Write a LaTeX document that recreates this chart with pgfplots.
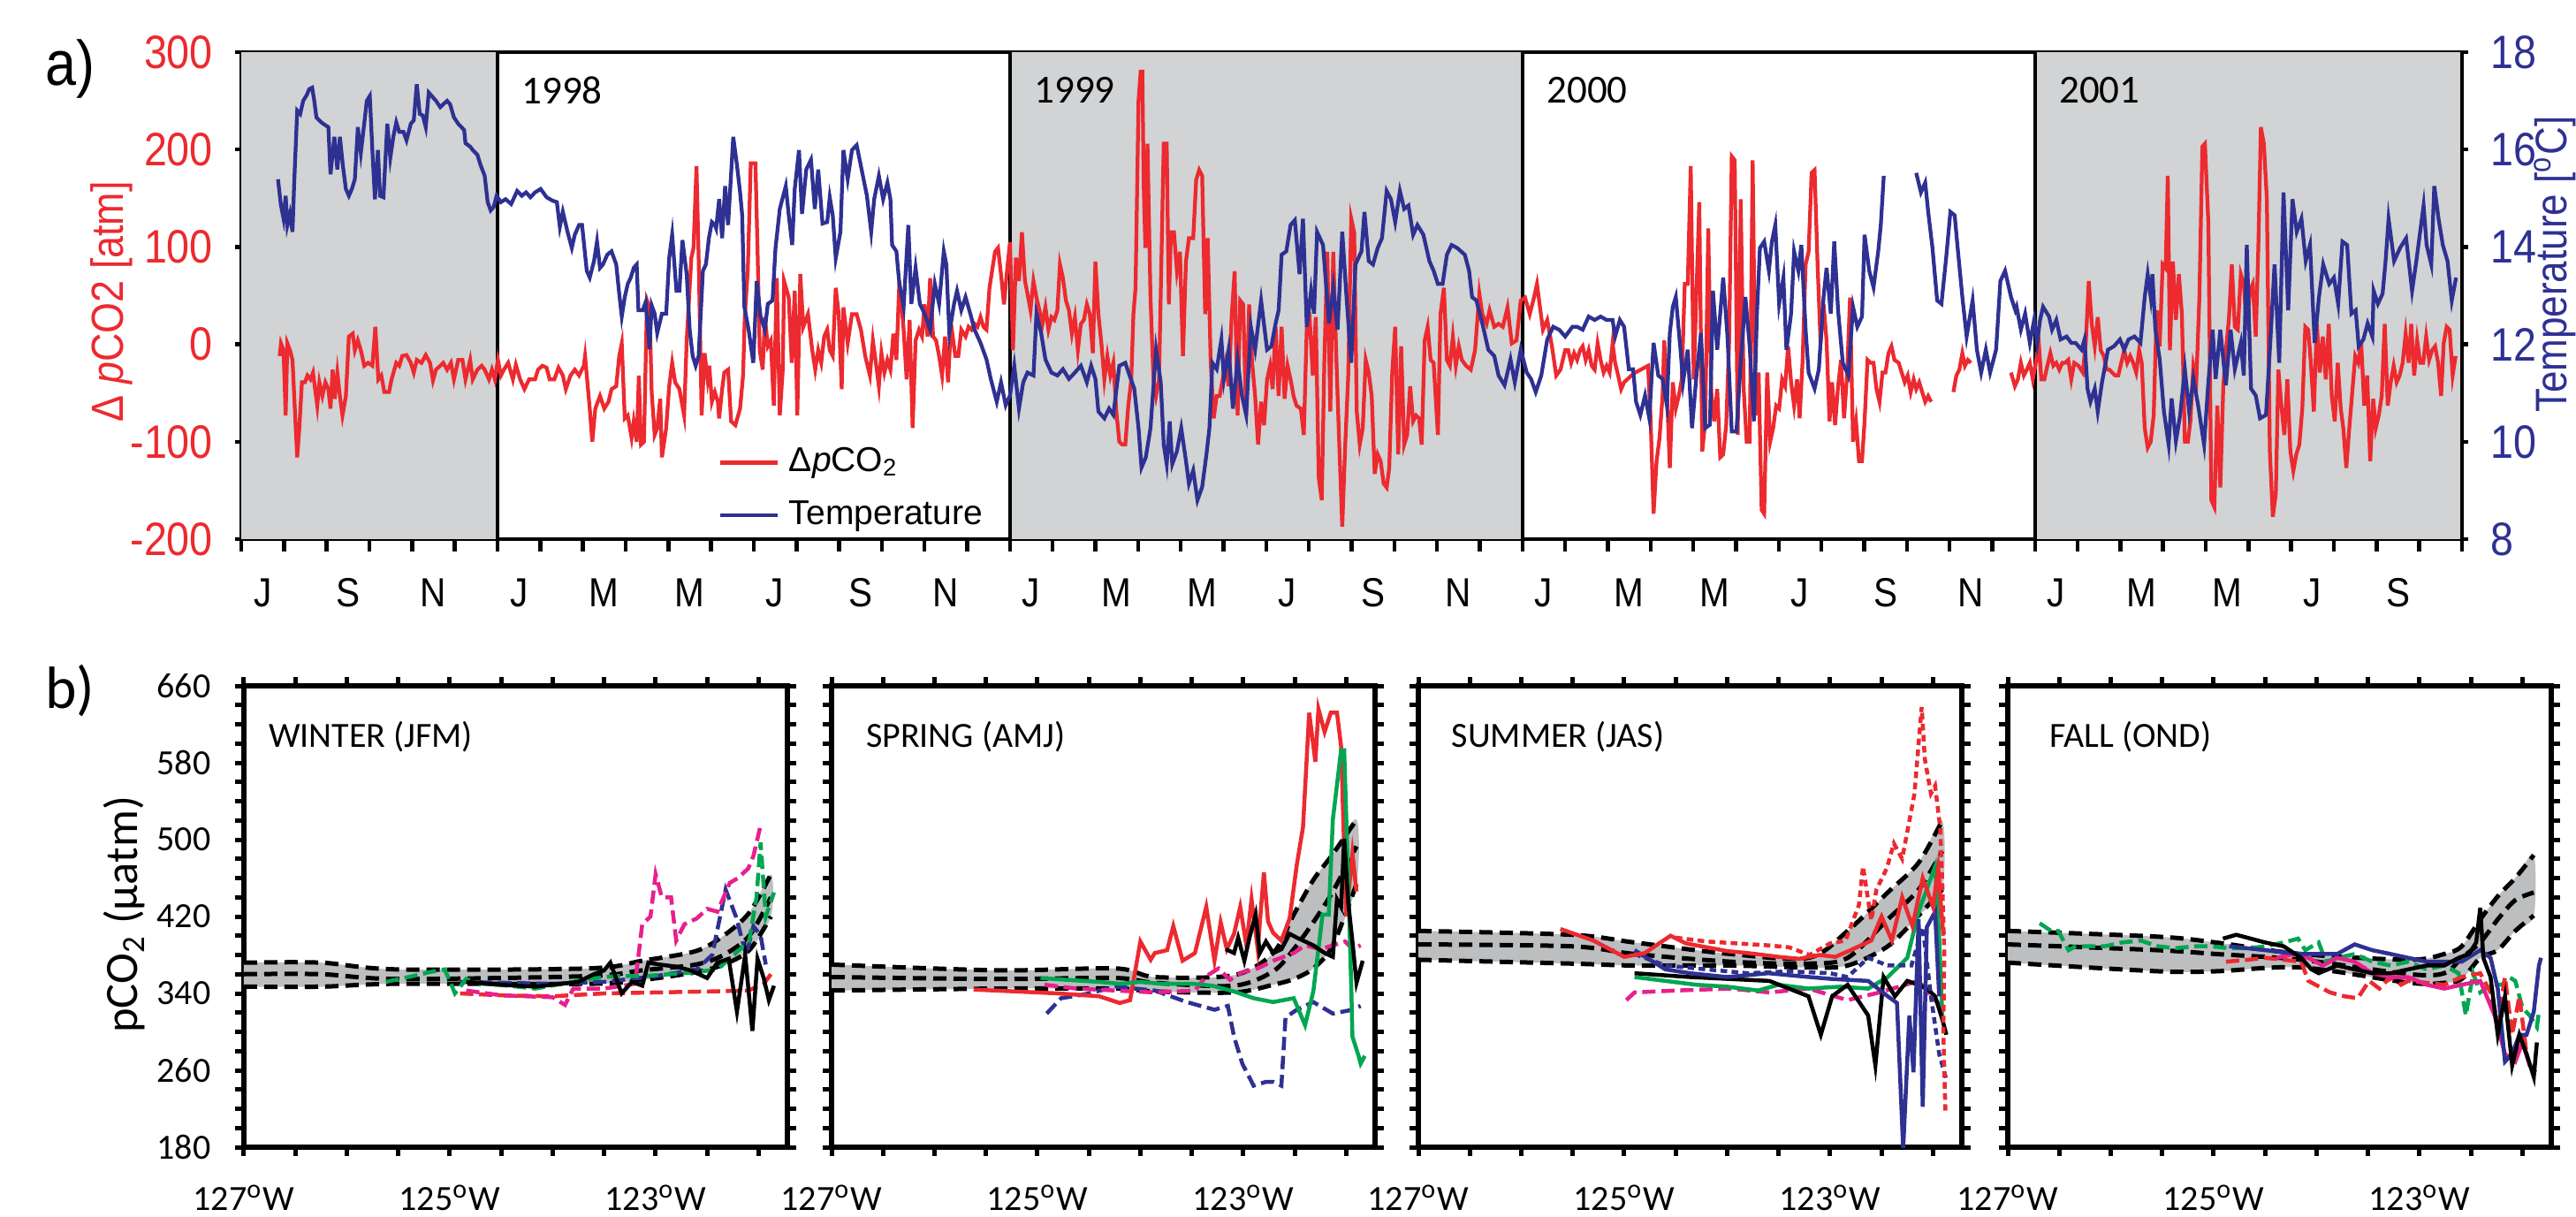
\documentclass[border=0pt]{standalone}
\usepackage{fontspec}
\setmainfont{Liberation Sans}
\newfontfamily\topfont[FakeStretch=0.88]{Liberation Sans}
\newfontfamily\myr{Carlito}
\usepackage{pgfplots}
\usepackage{pgfplotstable}
\pgfplotsset{compat=1.18}

\definecolor{co2red}{HTML}{EC2A2F}
\definecolor{tblue}{HTML}{2E3192}
\definecolor{yrgray}{HTML}{D1D3D4}
\definecolor{bandgray}{HTML}{BCBEC0}
\definecolor{pgreen}{HTML}{00A651}
\definecolor{pmag}{HTML}{E8208C}

% seasonal envelope: longitude (deg W), upper, middle, lower
\pgfplotstableread{
lon up mid lo
127 372 360 347
126.25 372 360 347
125.52 365 355 350
123.65 366 358 350
123.13 374 364 354
122.61 384 370 362
122.34 400 380 370
122.09 424 400 385
121.88 464 440 420
}\bandA
\pgfplotstableread{
lon up mid lo
127 370 357 343
125.39 364 355 345
124.24 366 356 345
123.86 357 351 342
123.09 359 348 341
122.71 382 363 349
122.51 422 386 355
122.32 458 414 366
122.13 485 446 390
121.9 521 493 454
}\bandB
\pgfplotstableread{
lon up mid lo
127 405 391 375
125.51 401 389 371
124.9 393 381 369
123.97 381 373 369
123.21 377 371 367
122.83 405 377 369
122.44 445 417 389
122.14 476 448 421
121.91 520 488 448
}\bandC
\pgfplotstableread{
lon up mid lo
127 405 391 372
125.54 399 385 363
124.98 393 381 363
124.15 381 375 367
123.1 375 360 351
122.76 381 361 351
122.59 389 377 355
122.41 417 393 377
122.24 441 417 385
122.07 460 437 405
121.89 484 445 421
}\bandD

\pgfplotsset{
  bpanel/.style={scale only axis, width=123pt, height=104.4pt,
    xmin=121.72, xmax=127, x dir=reverse, ymin=180, ymax=660,
    xtick={123,125,127},
    xticklabels={123\textsuperscript{o}W,125\textsuperscript{o}W,127\textsuperscript{o}W},
    minor xtick={122,122.5,123.5,124,124.5,125.5,126,126.5},
    ytick={180,260,...,660},
    minor ytick={200,220,240,280,300,320,360,380,400,440,460,480,520,540,560,600,620,640},
    tick align=outside, xtick pos=both, ytick pos=both,
    major tick length=2pt, minor tick length=2pt,
    tick style={line width=1pt,black},
    axis line style={line width=1.1pt},
    tick label style={font=\myr\fontsize{8}{9}\selectfont},
    x tick label style={yshift=-3pt}, y tick label style={xshift=-2pt},
    yticklabels={}},
  bandline/.style={black, line width=1pt, smooth, dash pattern=on 3pt off 1.6pt},
  bandfill/.style={fill=bandgray, draw=none, smooth},
  ser/.style={line width=0.9pt},
  lds/.style={line width=0.9pt, dash pattern=on 3pt off 1.3pt},
  sds/.style={line width=0.9pt, dash pattern=on 1.5pt off 1pt}
}
\tikzset{ptitle/.style={anchor=west, inner sep=0pt, font=\myr\fontsize{8}{9}\selectfont}}

\begin{document}
\begin{tikzpicture}
\useasboundingbox (0,0) rectangle (583pt,-275.4pt);
\clip (0,0) rectangle (583pt,-275.4pt);

% ---------- a) time series, left axis
\begin{axis}[at={(54.6pt,-11.8pt)}, anchor=north west,
  scale only axis, width=502.6pt, height=110.2pt,
  xmin=0, xmax=52, ymin=-200, ymax=300,
  axis line style={line width=0.9pt},
  tick align=outside, xtick pos=left, ytick pos=left,
  xtick={0.5,2.5,...,50.5},
  xticklabels={J,S,N,J,M,M,J,S,N,J,M,M,J,S,N,J,M,M,J,S,N,J,M,M,J,S},
  minor xtick={0,1,...,52},
  major x tick style={draw=none},
  minor tick length=2.7pt, major tick length=1.4pt,
  tick style={line width=0.9pt,black},
  ytick={-200,-100,...,300}, yticklabels={-200,-100,0,100,200,300},
  x tick label style={font=\topfont\fontsize{9.2}{10}\selectfont, yshift=-4pt},
  y tick label style={font=\topfont\fontsize{10.6}{11}\selectfont, text=co2red, xshift=-1.5pt},
  ylabel={Δ \textit{p}CO2 [atm]},
  ylabel style={at={(axis description cs:-0.0585,0.488)}, anchor=center,
    font=\topfont\fontsize{10.2}{11}\selectfont, text=co2red},
  unbounded coords=jump]
\fill[yrgray] (axis cs:0,-200) rectangle (axis cs:6,300);
\fill[yrgray] (axis cs:18,-200) rectangle (axis cs:30,300);
\fill[yrgray] (axis cs:42,-200) rectangle (axis cs:52,300);
\draw[line width=0.9pt] (axis cs:6,-200) -- (axis cs:6,300);
\draw[line width=0.9pt] (axis cs:18,-200) -- (axis cs:18,300);
\draw[line width=0.9pt] (axis cs:30,-200) -- (axis cs:30,300);
\draw[line width=0.9pt] (axis cs:42,-200) -- (axis cs:42,300);
\node[anchor=west, inner sep=0pt, font=\myr\fontsize{9}{10}\selectfont] at (axis cs:6.55,261) {1998};
\node[anchor=west, inner sep=0pt, font=\myr\fontsize{9}{10}\selectfont] at (axis cs:18.55,261) {1999};
\node[anchor=west, inner sep=0pt, font=\myr\fontsize{9}{10}\selectfont] at (axis cs:30.55,261) {2000};
\node[anchor=west, inner sep=0pt, font=\myr\fontsize{9}{10}\selectfont] at (axis cs:42.55,261) {2001};
\addplot[co2red, line width=0.85pt] coordinates {
(0.90,-12)(0.93,1)(0.99,-6)(1.04,-73)(1.08,1)(1.14,-6)(1.20,-16)(1.24,-53)(1.31,-116)(1.36,-86)(1.42,-39)(1.49,-39)(1.55,-32)(1.62,-36)(1.68,-29)(1.73,-46)(1.78,-63)(1.83,-39)(1.90,-53)(1.97,-39)(2.04,-46)(2.09,-66)(2.14,-26)(2.19,-56)(2.25,-29)(2.31,-53)(2.37,-73)(2.45,-53)(2.52,8)(2.61,11)(2.66,-6)(2.73,4)(2.80,-6)(2.88,-22)(2.97,-19)(3.07,-22)(3.14,18)(3.21,-36)(3.28,-32)(3.35,-49)(3.46,-49)(3.52,-36)(3.63,-19)(3.70,-22)(3.77,-12)(3.87,-11)(3.97,-19)(4.04,-29)(4.11,-16)(4.22,-19)(4.32,-11)(4.42,-19)(4.49,-37)(4.56,-26)(4.66,-22)(4.73,-19)(4.82,-26)(4.91,-19)(4.98,-36)(5.08,-16)(5.18,-16)(5.25,-36)(5.36,-16)(5.42,-36)(5.53,-26)(5.63,-22)(5.70,-26)(5.80,-36)(5.87,-26)(5.94,-36)(6.01,-16)(6.08,-32)(6.15,-26)(6.25,-19)(6.36,-36)(6.43,-21)(6.53,-36)(6.63,-46)(6.74,-36)(6.88,-36)(6.95,-26)(7.05,-22)(7.15,-24)(7.22,-36)(7.33,-36)(7.43,-24)(7.53,-32)(7.60,-46)(7.71,-32)(7.81,-26)(7.91,-32)(8.02,-22)(8.05,-12)(8.16,-66)(8.22,-100)(8.29,-66)(8.40,-53)(8.50,-66)(8.60,-59)(8.67,-46)(8.78,-43)(8.85,-12)(8.91,1)(8.98,-76)(9.05,-73)(9.14,-96)(9.19,-79)(9.26,-100)(9.31,-32)(9.36,-103)(9.43,-100)(9.50,45)(9.56,38)(9.61,-49)(9.68,-93)(9.74,-86)(9.81,-56)(9.85,-116)(9.95,-86)(10.02,-43)(10.09,-19)(10.16,-39)(10.26,-46)(10.37,-73)(10.43,4)
(10.54,89)(10.59,99)(10.66,183)(10.71,89)(10.78,-73)(10.85,-9)(10.92,-36)(10.96,-22)(11.02,-59)(11.09,-49)(11.16,-59)(11.19,-76)(11.26,-46)(11.31,-29)(11.40,-26)(11.47,-79)(11.57,-83)(11.68,-66)(11.75,-32)(11.79,28)(11.86,75)(11.93,186)(11.99,186)(12.04,186)(12.09,95)(12.14,-6)(12.21,-26)(12.26,28)(12.33,-2)(12.40,4)(12.47,-63)(12.54,68)(12.61,-73)(12.68,-26)(12.71,65)(12.82,48)(12.89,-19)(12.96,55)(13.02,-73)(13.09,72)(13.16,18)(13.27,31)(13.37,-6)(13.44,-26)(13.51,-6)(13.58,-19)(13.65,8)(13.72,15)(13.78,-6)(13.85,-12)(13.92,58)(13.99,31)(14.06,-46)(14.10,38)(14.20,1)(14.30,31)(14.41,31)(14.51,15)(14.61,-12)(14.72,-32)(14.79,4)(14.86,-19)(14.93,-43)(14.99,-9)(15.06,-29)(15.13,-16)(15.20,-26)(15.27,11)(15.34,-16)(15.41,65)(15.51,15)(15.58,-36)(15.65,25)(15.72,-86)(15.79,4)(15.87,15)(15.94,8)(16.00,41)(16.07,8)(16.13,68)(16.20,8)(16.27,4)(16.34,-12)(16.41,-32)(16.48,8)(16.55,-39)(16.62,21)(16.72,-12)(16.79,-12)(16.86,15)(16.96,8)(17.03,18)(17.10,15)(17.17,21)(17.24,18)(17.31,28)(17.38,18)(17.45,15)(17.52,58)(17.59,78)(17.65,95)(17.72,99)(17.79,72)(17.86,41)(17.93,75)(18.00,105)(18.07,-6)(18.14,89)(18.21,65)(18.28,115)(18.35,65)(18.41,52)(18.48,35)(18.55,65)(18.62,48)(18.69,35)(18.76,21)(18.83,38)(18.90,15)(18.97,28)(19.04,25)(19.11,35)(19.17,82)(19.24,68)(19.31,45)(19.38,35)(19.45,11)(19.52,28)(19.59,-6)(19.66,21)(19.73,25)(19.80,41)(19.87,31)(19.94,-9)(20.00,85)(20.07,31)(20.14,1)(20.21,-36)(20.28,-12)(20.35,-32)(20.42,-19)(20.49,-69)(20.56,-100)(20.63,-103)(20.70,-103)
(20.77,-63)(20.84,-36)(20.89,31)(20.94,58)(21.01,250)(21.06,280)(21.10,280)(21.13,166)(21.17,99)(21.22,206)(21.29,48)(21.36,-36)(21.42,-53)(21.49,-36)(21.60,206)(21.67,206)(21.72,41)(21.77,115)(21.84,115)(21.91,75)(21.98,95)(22.05,-12)(22.12,85)(22.19,109)(22.29,109)(22.36,169)(22.43,179)(22.50,173)(22.57,31)(22.63,109)(22.70,-19)(22.77,-76)(22.84,-53)(22.91,-53)(22.98,-36)(23.05,-19)(23.12,-43)(23.19,28)(23.26,75)(23.33,-73)(23.39,45)(23.46,41)(23.53,-73)(23.60,41)(23.67,-19)(23.74,-53)(23.81,-103)(23.88,-59)(23.95,-83)(24.02,-36)(24.09,-22)(24.15,-46)(24.22,18)(24.29,-53)(24.36,18)(24.43,-56)(24.50,-22)(24.57,-36)(24.64,-53)(24.71,-63)(24.81,-66)(24.88,-93)(24.95,18)(25.02,25)(25.09,-32)(25.16,28)(25.23,-137)(25.30,-160)(25.36,-19)(25.43,95)(25.50,-69)(25.57,95)(25.64,-12)(25.71,-103)(25.78,-187)(25.85,-103)(25.92,-32)(25.99,129)(26.06,115)(26.12,-69)(26.19,-103)(26.26,-86)(26.33,-16)(26.40,-29)(26.47,-53)(26.54,-133)(26.61,-113)(26.68,-120)(26.75,-143)(26.82,-147)(26.88,-127)(26.95,-29)(27.02,18)(27.09,-113)(27.16,-2)(27.23,-103)(27.30,-93)(27.37,-43)(27.44,-79)(27.51,-73)(27.58,-76)(27.64,-103)(27.71,4)(27.78,18)(27.85,-16)(27.92,-19)(28.02,-93)(28.08,31)(28.16,58)(28.23,-16)(28.30,-22)(28.37,8)(28.44,-22)(28.51,-2)(28.58,-16)(28.68,-22)(28.79,-26)(28.89,-6)(28.99,52)(29.06,31)(29.16,21)(29.23,35)(29.34,18)(29.44,21)(29.54,18)(29.65,38)(29.75,1)(29.86,4)(29.96,45)(30.06,48)(30.17,31)(30.27,48)(30.34,62)(30.41,38)(30.48,15)(30.58,25)(30.69,-2)(30.79,-32)(30.89,-26)(31.00,-6)
(31.07,-6)(31.14,-19)(31.21,-9)(31.28,-16)(31.35,-6)(31.41,-2)(31.48,-16)(31.55,-6)(31.62,-22)(31.69,-26)(31.76,1)(31.83,-16)(31.90,-29)(31.97,-22)(32.04,-29)(32.11,1)(32.17,-19)(32.24,-32)(32.31,-46)(32.38,-39)(32.6,-30)(32.94,-22)(33.00,-76)(33.07,-174)(33.14,-120)(33.21,-96)(33.28,-53)(33.32,4)(33.38,-46)(33.45,-127)(33.52,-39)(33.59,-66)(33.66,-53)(33.73,-36)(33.80,62)(33.87,62)(33.94,183)(34.01,-36)(34.08,62)(34.14,146)(34.21,-110)(34.28,-79)(34.35,119)(34.42,-49)(34.49,-79)(34.56,-46)(34.63,-116)(34.70,-113)(34.77,-83)(34.84,4)(34.90,193)(34.97,189)(35.04,-93)(35.11,149)(35.18,-46)(35.25,-100)(35.32,-100)(35.39,189)(35.46,-73)(35.53,-29)(35.60,-170)(35.66,-174)(35.73,-29)(35.80,-100)(35.87,-86)(35.94,-63)(36.01,-66)(36.08,-36)(36.15,-43)(36.22,-2)(36.29,-39)(36.36,-63)(36.43,-36)(36.49,-76)(36.56,-16)(36.63,82)(36.70,95)(36.77,176)(36.84,179)(36.91,82)(36.98,1)(37.05,41)(37.12,4)(37.19,-79)(37.25,-39)(37.32,-83)(37.39,-43)(37.46,-16)(37.53,-76)(37.60,-32)(37.67,48)(37.74,-100)(37.81,-79)(37.88,-120)(37.95,-120)(38.01,-79)(38.08,-16)(38.15,-19)(38.22,-19)(38.29,-46)(38.36,-59)(38.43,-29)(38.50,-29)(38.57,-9)(38.64,-2)(38.71,-16)(38.81,-19)(38.88,-29)(38.95,-39)(39.02,-32)(39.09,-49)(39.16,-36)(39.22,-46)(39.29,-39)(39.36,-49)(39.43,-59)(39.50,-53)(39.57,-59)(39.8,nan)(40.09,-49)(40.16,-32)(40.23,-26)(40.30,-9)(40.36,-22)(40.43,-16)(40.50,-19)(41.0,nan)(41.44,-29)
(41.53,-43)(41.60,-36)(41.67,-19)(41.74,-32)(41.81,-26)(41.88,-19)(41.95,-36)(42.02,-19)(42.09,1)(42.15,-36)(42.22,-36)(42.29,-22)(42.36,-9)(42.43,-22)(42.50,-19)(42.57,-26)(42.64,-19)(42.71,-19)(42.78,-16)(42.85,-36)(42.92,-19)(43.02,-22)(43.12,-29)(43.19,1)(43.26,65)(43.33,21)(43.40,-2)(43.47,28)(43.54,-6)(43.61,-12)(43.68,-26)(43.74,-26)(43.81,-29)(43.88,-32)(43.95,-32)(44.02,-19)(44.09,-6)(44.16,-19)(44.23,-12)(44.30,-19)(44.37,-29)(44.44,-6)(44.50,-19)(44.57,-86)(44.64,-106)(44.71,-100)(44.78,-73)(44.85,35)(44.92,-2)(44.99,82)(45.06,78)(45.11,173)(45.16,-6)(45.23,85)(45.30,25)(45.37,72)(45.44,31)(45.51,-100)(45.58,-100)(45.64,-79)(45.71,-22)(45.78,-36)(45.85,48)(45.92,203)(45.98,206)(46.06,125)(46.13,-160)(46.20,-167)(46.27,-63)(46.34,-147)(46.41,-43)(46.47,-6)(46.54,25)(46.61,82)(46.68,18)(46.75,15)(46.82,72)(46.89,62)(46.96,15)(47.03,55)(47.10,62)(47.17,8)(47.23,99)(47.29,223)(47.36,206)(47.43,149)(47.50,-110)(47.57,-177)(47.64,-153)(47.70,-26)(47.77,-63)(47.84,-93)(47.91,-36)(47.98,-110)(48.05,-130)(48.12,-113)(48.19,-103)(48.26,-66)(48.33,18)(48.40,15)(48.46,-19)(48.53,-69)(48.60,21)(48.67,-29)(48.74,8)(48.81,-36)(48.88,21)(48.95,-53)(49.02,-79)(49.09,-19)(49.16,-66)(49.22,-86)(49.29,-127)(49.36,-86)(49.43,-49)(49.50,-12)(49.57,-19)(49.64,1)(49.71,-63)(49.78,-32)(49.85,-120)(49.92,-56)(49.98,-86)(50.05,-73)(50.12,-53)(50.19,21)(50.26,-63)(50.33,-39)(50.40,-22)(50.47,-39)(50.54,-32)(50.61,-19)(50.68,11)(50.75,-19)(50.81,21)(50.88,-32)(50.95,4)(51.02,-19)(51.09,-19)(51.16,8)(51.23,-16)(51.30,-6)(51.37,-2)(51.44,-19)(51.51,-53)(51.57,1)(51.64,18)(51.71,15)(51.78,-32)(51.85,-12)
};
\end{axis}

% ---------- a) time series, right axis (temperature)
\begin{axis}[at={(54.6pt,-11.8pt)}, anchor=north west,
  scale only axis, width=502.6pt, height=110.2pt,
  xmin=0, xmax=52, ymin=8, ymax=18,
  axis x line=none, axis y line*=right,
  y axis line style={line width=0.9pt},
  tick align=outside, major tick length=1.4pt,
  tick style={line width=0.9pt,black},
  ytick={8,10,...,18}, yticklabels={8,10,12,14,16,18},
  y tick label style={font=\topfont\fontsize{10.6}{11}\selectfont, text=tblue, xshift=1.5pt},
  ylabel={Temperature [\textsuperscript{o}C]},
  ylabel style={at={(axis description cs:1.0418,0.564)}, anchor=center,
    font=\topfont\fontsize{10}{11}\selectfont, text=tblue},
  unbounded coords=jump,
  legend style={draw=none, fill=none, at={(axis description cs:0.2085,0.226)}, anchor=north west,
    font=\fontsize{7.8}{9}\selectfont, row sep=1pt},
  legend cell align=left,
  legend image code/.code={\draw[#1] (0pt,0pt) -- (13pt,0pt);}]
\addlegendimage{co2red, line width=1pt}
\addlegendentry{Δ\textit{p}CO\textsubscript{2}}
\addplot[tblue, line width=0.85pt] coordinates {
(0.86,15.39)(0.93,14.85)(0.99,14.58)(1.04,15.05)(1.08,14.45)(1.14,14.68)(1.20,14.31)(1.24,15.32)(1.31,16.80)(1.38,16.73)(1.45,17.00)(1.54,17.13)(1.59,17.24)(1.66,17.27)(1.71,17.00)(1.76,16.66)(1.87,16.56)(1.97,16.50)(2.04,16.46)(2.09,15.49)(2.18,16.26)(2.25,15.59)(2.31,16.26)(2.38,15.66)(2.45,15.19)(2.52,15.05)(2.59,15.19)(2.66,15.39)(2.73,16.46)(2.80,15.93)(2.87,16.46)(2.94,17.00)(3.01,17.10)(3.07,15.99)(3.13,14.98)(3.20,15.99)(3.25,15.05)(3.33,15.02)(3.42,16.53)(3.49,15.83)(3.56,16.26)(3.63,16.56)(3.70,16.36)(3.80,16.36)(3.87,16.19)(3.97,16.53)(4.04,16.60)(4.11,17.34)(4.18,16.73)(4.25,16.70)(4.32,16.46)(4.39,17.17)(4.46,17.10)(4.56,17.00)(4.66,16.87)(4.73,16.93)(4.82,17.00)(4.89,16.93)(4.98,16.66)(5.08,16.53)(5.22,16.40)(5.25,16.13)(5.36,16.06)(5.42,15.99)(5.53,15.89)(5.60,15.69)(5.70,15.46)(5.77,14.92)(5.84,14.75)(5.91,14.82)(5.98,15.05)(6.08,14.92)(6.19,14.98)(6.32,14.88)(6.46,15.15)(6.57,15.05)(6.67,15.12)(6.77,15.02)(6.88,15.12)(7.01,15.19)(7.15,15.02)(7.29,14.95)(7.39,14.92)(7.46,14.41)(7.53,14.72)(7.64,14.31)(7.74,13.98)(7.81,14.25)(7.91,14.45)(7.98,14.45)(8.09,13.51)(8.16,13.37)(8.26,13.71)(8.33,14.11)(8.40,13.57)(8.47,13.64)(8.57,13.84)(8.67,13.91)(8.78,13.64)(8.85,13.04)(8.91,12.57)(8.98,12.97)(9.05,13.24)(9.12,13.37)(9.19,13.57)(9.26,13.64)(9.30,12.70)(9.40,12.70)(9.47,12.87)(9.56,11.90)(9.61,12.80)(9.68,12.63)(9.74,12.23)(9.85,12.63)(9.95,12.63)(10.02,13.77)(10.09,14.25)(10.19,13.10)(10.26,13.10)(10.33,14.14)(10.43,13.44)
(10.50,12.30)(10.57,11.76)(10.64,11.56)(10.71,11.76)(10.74,12.30)(10.81,13.51)(10.88,13.64)(10.95,14.18)(11.02,14.51)(11.09,14.45)(11.12,14.38)(11.19,14.98)(11.26,14.18)(11.33,15.25)(11.40,14.45)(11.52,16.26)(11.61,15.66)(11.68,15.12)(11.73,14.65)(11.78,12.77)(11.88,12.30)(11.99,11.62)(12.07,13.30)(12.16,12.57)(12.26,12.30)(12.33,12.83)(12.44,12.90)(12.51,13.98)(12.61,14.78)(12.75,15.25)(12.82,14.65)(12.90,14.04)(12.96,15.19)(13.06,15.99)(13.13,14.68)(13.23,15.59)(13.34,15.79)(13.43,14.78)(13.51,15.59)(13.61,14.48)(13.72,14.51)(13.78,15.02)(13.85,14.65)(13.92,13.77)(14.03,14.31)(14.10,15.99)(14.20,15.39)(14.30,15.99)(14.41,16.09)(14.51,15.66)(14.65,15.05)(14.75,14.31)(14.82,14.98)(14.93,15.46)(15.03,14.98)(15.13,15.32)(15.20,14.98)(15.24,14.04)(15.34,13.91)(15.41,13.24)(15.51,12.77)(15.62,14.45)(15.69,12.83)(15.79,13.57)(15.89,12.83)(16.00,12.63)(16.13,12.30)(16.24,13.24)(16.34,12.83)(16.45,13.91)(16.51,13.64)(16.58,12.23)(16.69,12.83)(16.76,13.10)(16.86,12.70)(16.96,12.97)(17.07,12.63)(17.17,12.30)(17.31,12.03)(17.45,11.69)(17.55,11.29)(17.69,10.82)(17.79,11.22)(17.90,10.75)(18.00,10.95)(18.10,11.56)(18.21,10.68)(18.31,11.22)(18.41,11.42)(18.55,11.36)(18.62,12.63)(18.73,12.23)(18.83,11.69)(18.97,11.42)(19.11,11.36)(19.24,11.49)(19.38,11.29)(19.52,11.42)(19.66,11.56)(19.80,11.22)(19.90,11.56)(20.00,11.29)(20.07,10.62)(20.21,10.48)(20.32,10.68)(20.42,10.55)(20.56,11.56)(20.70,11.62)(20.80,11.36)
(20.91,11.09)(21.01,10.28)(21.08,9.47)(21.18,9.68)(21.29,10.28)(21.42,11.89)(21.53,11.22)(21.60,9.94)(21.67,9.54)(21.74,10.42)(21.80,9.54)(21.91,9.81)(22.01,10.28)(22.12,9.61)(22.19,9.14)(22.29,9.41)(22.39,8.80)(22.50,9.07)(22.60,9.74)(22.67,10.28)(22.74,11.62)(22.84,11.49)(22.95,12.10)(23.01,11.29)(23.12,11.89)(23.22,10.68)(23.33,11.69)(23.43,10.95)(23.53,10.55)(23.64,12.36)(23.74,11.89)(23.88,12.90)(24.02,11.89)(24.12,11.96)(24.22,12.43)(24.29,12.70)(24.36,13.84)(24.47,13.91)(24.57,14.45)(24.67,14.55)(24.78,13.44)(24.86,14.58)(24.95,12.36)(25.05,13.10)(25.12,12.63)(25.19,14.31)(25.33,14.04)(25.47,12.43)(25.57,13.17)(25.67,12.30)(25.78,14.31)(25.88,12.97)(25.99,11.62)(26.09,13.64)(26.23,13.91)(26.30,14.72)(26.40,13.71)(26.50,13.64)(26.61,13.98)(26.71,14.18)(26.82,15.15)(26.92,14.98)(27.02,14.51)(27.13,15.15)(27.23,14.78)(27.33,14.85)(27.44,14.25)(27.54,14.45)(27.68,14.25)(27.82,13.71)(27.92,13.51)(28.02,13.24)(28.13,13.24)(28.23,13.84)(28.34,14.04)(28.47,13.98)(28.65,13.84)(28.75,13.51)(28.82,12.97)(28.92,12.90)(29.06,12.43)(29.20,11.89)(29.34,11.76)(29.44,11.36)(29.58,11.16)(29.72,11.69)(29.82,11.22)(29.96,11.89)(30.10,11.42)(30.20,11.29)(30.31,11.02)(30.44,11.36)(30.58,12.10)(30.72,12.36)(30.86,12.30)(31.00,12.16)(31.17,12.36)
(31.28,12.36)(31.41,12.30)(31.55,12.57)(31.69,12.50)(31.83,12.57)(31.97,12.50)(32.11,12.50)(32.17,12.16)(32.28,12.50)(32.38,12.36)(32.49,11.49)(32.59,11.49)(32.66,10.82)(32.76,10.55)(32.87,10.95)(32.97,10.48)(33.07,12.03)(33.18,11.36)(33.28,11.29)(33.38,10.75)(33.45,12.23)(33.52,12.77)(33.59,12.97)(33.70,11.89)(33.76,11.22)(33.87,11.89)(33.97,10.28)(34.08,11.42)(34.18,12.23)(34.28,10.28)(34.39,10.35)(34.46,13.10)(34.56,11.89)(34.70,13.37)(34.80,12.16)(34.90,10.21)(35.01,10.21)(35.11,11.62)(35.22,12.97)(35.32,11.96)(35.42,10.42)(35.49,12.63)(35.56,13.98)(35.66,14.11)(35.77,13.51)(35.84,14.11)(35.92,14.45)(36.01,12.83)(36.11,13.37)(36.18,11.89)(36.29,12.63)(36.36,13.91)(36.46,13.51)(36.53,14.04)(36.63,12.30)(36.70,11.42)(36.84,11.09)(36.94,11.49)(37.05,12.97)(37.12,13.57)(37.22,12.63)(37.30,14.11)(37.39,12.70)(37.50,11.62)(37.63,11.36)(37.74,12.77)(37.84,12.36)(37.95,12.57)(38.01,14.25)(38.12,13.51)(38.22,13.17)(38.33,13.91)(38.39,14.45)(38.46,15.46)(38.8,nan)(39.22,15.52)(39.33,15.12)(39.43,15.32)(39.50,14.72)(39.60,13.98)(39.71,12.90)(39.81,12.83)(39.92,13.77)(40.02,14.72)(40.12,14.65)(40.19,13.98)(40.30,12.97)(40.40,12.16)(40.54,12.90)(40.64,11.89)(40.74,11.42)(40.85,11.89)(40.95,11.42)(41.09,11.89)(41.19,13.30)(41.30,13.51)(41.44,12.97)(41.54,12.70)
(41.57,12.77)(41.67,12.30)(41.77,12.63)(41.88,12.03)(41.98,12.50)(42.05,12.03)(42.12,12.50)(42.19,12.77)(42.33,12.57)(42.40,12.30)(42.50,12.50)(42.60,12.10)(42.74,12.16)(42.85,12.03)(42.95,12.03)(43.09,11.89)(43.16,12.10)(43.23,11.09)(43.30,10.82)(43.40,11.09)(43.47,10.62)(43.57,11.22)(43.71,11.89)(43.85,11.96)(43.99,12.10)(44.09,11.89)(44.19,12.10)(44.33,12.16)(44.47,12.03)(44.57,12.97)(44.64,13.44)(44.71,12.97)(44.75,13.44)(44.82,12.30)(44.92,11.69)(45.02,10.62)(45.13,9.94)(45.20,10.89)(45.30,10.01)(45.40,10.55)(45.51,11.49)(45.61,10.62)(45.71,11.29)(45.82,10.75)(45.96,9.94)(46.06,11.22)(46.16,12.30)(46.23,11.29)(46.34,12.30)(46.47,11.16)(46.58,12.30)(46.68,11.49)(46.82,12.03)(46.89,11.36)(46.96,14.04)(47.06,11.09)(47.17,10.95)(47.27,10.48)(47.41,10.55)(47.51,12.03)(47.61,13.64)(47.72,11.62)(47.82,15.12)(47.93,12.70)(48.03,14.98)(48.13,14.31)(48.24,14.58)(48.34,13.71)(48.44,14.04)(48.55,12.03)(48.65,12.97)(48.75,13.64)(48.89,13.24)(49.00,13.37)(49.10,12.83)(49.20,14.11)(49.31,14.04)(49.41,12.63)(49.51,12.70)(49.58,11.96)(49.69,12.10)(49.79,12.43)(49.90,12.16)(49.93,13.10)(50.03,12.83)(50.14,13.04)(50.21,13.71)(50.28,14.58)(50.41,13.71)(50.55,13.98)(50.69,14.18)(50.83,13.10)(50.93,13.71)(51.04,14.45)(51.10,14.85)(51.17,14.04)(51.28,13.64)(51.35,15.25)(51.45,14.58)(51.55,14.04)(51.66,13.71)(51.76,12.90)(51.86,13.37)
};
\addlegendentry{Temperature}
\end{axis}

\node[font=\topfont\fontsize{14.3}{15}\selectfont] at (15.8pt,-15.6pt) {a)};
\node[font=\myr\fontsize{13.5}{15}\selectfont] at (15.8pt,-156.2pt) {b)};

% ---------- b) WINTER
\begin{axis}[bpanel, at={(55.2pt,-155.2pt)}, anchor=north west,
  yticklabels={180,260,340,420,500,580,660},
  ylabel={pCO\textsubscript{2} (µatm)},
  ylabel style={at={(axis description cs:-0.221,0.504)}, anchor=center,
    font=\myr\fontsize{10.5}{12}\selectfont}]
\addplot[bandfill] coordinates {(127,372)(126.25,372)(125.52,365)(123.65,366)(123.13,374)(122.61,384)(122.34,400)(122.09,424)(121.88,464)(121.88,420)(122.09,385)(122.34,370)(122.61,362)(123.13,354)(123.65,350)(125.52,350)(126.25,347)(127,347)};
\addplot[bandline] table[x=lon,y=up]{\bandA};
\addplot[bandline] table[x=lon,y=mid]{\bandA};
\addplot[bandline] table[x=lon,y=lo]{\bandA};
\addplot[lds, co2red] coordinates {(124.9,340)(124.5,338)(124.0,337)(123.5,340)(123.0,341)(122.5,342)(122.1,343)(121.95,350)(121.88,360)};
\addplot[lds, tblue] coordinates {(124.9,352)(124.0,350)(123.5,352)(123.0,358)(122.6,365)(122.45,380)(122.32,448)(122.22,420)(122.12,380)(122.05,410)(121.98,400)(121.93,370)};
\addplot[lds, pmag] coordinates {(124.84,343)(124.5,338)(124.0,336)(123.88,328)(123.8,345)(123.5,345)(123.2,350)(123.13,412)(123.05,420)(123.0,464)(122.94,440)(122.85,440)(122.8,395)(122.72,412)(122.6,418)(122.5,428)(122.4,425)(122.28,455)(122.2,460)(122.1,470)(122.05,483)(121.98,515)};
\addplot[lds, pgreen] coordinates {(125.62,352)(125.45,356)(125.36,358)(125.2,362)(125.05,365)(124.98,348)(124.95,340)(124.84,355)(124.69,350)(124.43,348)(124.17,345)(123.91,350)(123.65,355)(123.39,358)(123.13,358)(122.87,360)(122.61,362)(122.4,365)(122.24,380)(122.09,395)(122.02,440)(121.98,497)(121.93,420)(121.85,445)};
\addplot[ser, black] coordinates {(124.84,352)(124.5,349)(124.17,347)(123.75,352)(123.6,360)(123.5,364)(123.44,372)(123.33,340)(123.23,352)(123.13,348)(123.07,372)(122.96,370)(122.81,368)(122.66,364)(122.5,356)(122.4,372)(122.29,376)(122.21,321)(122.13,380)(122.06,301)(122.01,376)(121.95,356)(121.9,333)(121.85,348)};
\node[ptitle] at (axis description cs:0.044,0.89) {WINTER (JFM)};
\end{axis}

% ---------- b) SPRING
\begin{axis}[bpanel, at={(188.2pt,-155.2pt)}, anchor=north west]
\addplot[bandfill] coordinates {(127,370)(125.39,364)(124.24,366)(123.86,357)(123.09,359)(122.71,382)(122.51,422)(122.32,458)(122.13,485)(121.9,521)(121.9,454)(122.13,390)(122.32,366)(122.51,355)(122.71,349)(123.09,341)(123.86,342)(124.24,345)(125.39,345)(127,343)};
\addplot[bandline] table[x=lon,y=up]{\bandB};
\addplot[bandline] table[x=lon,y=mid]{\bandB};
\addplot[bandline] table[x=lon,y=lo]{\bandB};
\addplot[lds, tblue] coordinates {(124.91,319)(124.77,335)(124.54,339)(124.24,347)(123.86,343)(123.55,331)(123.28,323)(123.15,327)(123.09,295)(123.01,267)(122.9,244)(122.78,248)(122.71,248)(122.63,244)(122.59,315)(122.48,323)(122.32,331)(122.13,319)(121.94,323)(121.86,327)};
\addplot[lds, pmag] coordinates {(124.93,349)(124.62,345)(124.24,343)(123.86,341)(123.47,343)(123.36,358)(123.24,366)(123.13,354)(123.01,362)(122.86,366)(122.71,374)(122.51,382)(122.4,390)(122.25,386)(122.13,390)(122.01,394)(121.94,386)(121.86,390)};
\addplot[ser, co2red] coordinates {(125.62,344)(125.2,342)(124.8,340)(124.4,337)(124.2,330)(124.1,333)(124.0,394)(123.9,375)(123.86,382)(123.74,385)(123.68,410)(123.59,374)(123.47,382)(123.36,430)(123.28,374)(123.22,414)(123.16,386)(123.09,402)(123.03,430)(122.97,390)(122.92,438)(122.86,386)(122.8,466)(122.76,415)(122.71,403)(122.63,395)(122.55,418)(122.48,474)(122.42,513)(122.36,632)(122.3,581)(122.27,636)(122.21,612)(122.15,632)(122.09,632)(122.05,597)(122.0,420)(121.94,485)(121.9,446)};
\addplot[ser, pgreen] coordinates {(124.97,356)(124.7,354)(124.4,352)(124.2,350)(124.0,352)(123.8,350)(123.5,350)(123.3,348)(123.09,342)(122.9,335)(122.71,331)(122.51,335)(122.4,307)(122.32,342)(122.23,422)(122.17,422)(122.13,521)(122.09,557)(122.05,593)(122.02,593)(121.98,454)(121.95,342)(121.94,295)(121.88,275)(121.86,267)(121.82,275)};
\addplot[ser, black] coordinates {(123.17,386)(123.09,382)(123.05,398)(122.99,374)(122.94,398)(122.88,422)(122.84,382)(122.78,394)(122.71,382)(122.63,386)(122.55,402)(122.48,398)(122.4,394)(122.32,390)(122.21,382)(122.13,378)(122.09,438)(122.05,430)(122.02,501)(121.98,434)(121.94,394)(121.9,351)(121.84,374)};
\node[ptitle] at (axis description cs:0.062,0.89) {SPRING (AMJ)};
\end{axis}

% ---------- b) SUMMER
\begin{axis}[bpanel, at={(321pt,-155.2pt)}, anchor=north west]
\addplot[bandfill] coordinates {(127,405)(125.51,401)(124.9,393)(123.97,381)(123.21,377)(122.83,405)(122.44,445)(122.14,476)(121.91,520)(121.91,448)(122.14,421)(122.44,389)(122.83,369)(123.21,367)(123.97,369)(124.9,369)(125.51,371)(127,375)};
\addplot[bandline] table[x=lon,y=up]{\bandC};
\addplot[bandline] table[x=lon,y=mid]{\bandC};
\addplot[bandline] table[x=lon,y=lo]{\bandC};
\addplot[lds, pmag] coordinates {(124.98,333)(124.9,341)(124.5,343)(123.97,345)(123.59,341)(123.21,345)(122.83,333)(122.52,341)(122.14,353)(122.02,337)(121.94,329)};
\addplot[ser, pgreen] coordinates {(124.9,357)(124.6,353)(124.3,349)(124.0,347)(123.7,343)(123.5,349)(123.21,345)(122.9,347)(122.63,345)(122.44,357)(122.25,377)(122.14,425)(121.98,472)(121.94,397)(121.91,317)};
\addplot[ser, black] coordinates {(124.9,361)(124.36,357)(123.59,353)(123.21,337)(123.09,297)(122.98,337)(122.83,349)(122.63,317)(122.56,265)(122.48,357)(122.37,337)(122.25,353)(122.14,349)(122.06,345)(121.98,337)(121.91,313)(121.87,297)};
\addplot[ser, tblue] coordinates {(124.9,385)(124.6,365)(124.36,361)(124.0,357)(123.6,361)(123.2,357)(122.98,355)(122.63,353)(122.44,337)(122.35,330)(122.29,178)(122.23,317)(122.19,258)(122.14,417)(122.1,222)(122.06,409)(121.98,425)(121.94,337)};
\addplot[sds, tblue] coordinates {(124.9,381)(124.6,369)(124.2,365)(123.8,361)(123.4,363)(123.0,361)(122.83,357)(122.63,377)(122.44,369)(122.21,369)(122.1,409)(122.02,337)(121.94,277)(121.87,250)};
\addplot[ser, co2red] coordinates {(125.62,407)(125.3,395)(125.0,378)(124.8,382)(124.55,400)(124.4,392)(124.2,388)(124.0,384)(123.8,382)(123.5,378)(123.3,376)(123.1,380)(122.95,378)(122.8,385)(122.6,395)(122.5,420)(122.4,395)(122.3,440)(122.2,410)(122.1,460)(122.0,430)(121.95,470)(121.9,400)};
\addplot[sds, co2red] coordinates {(124.5,398)(124.2,394)(123.9,392)(123.6,390)(123.4,388)(123.2,380)(123.0,392)(122.85,395)(122.72,432)(122.68,472)(122.6,416)(122.55,448)(122.45,470)(122.38,496)(122.3,480)(122.25,508)(122.18,548)(122.14,600)(122.11,638)(122.08,584)(122.02,548)(121.98,556)(121.93,512)(121.91,456)(121.89,380)(121.9,300)(121.88,218)};
\node[ptitle] at (axis description cs:0.06,0.89) {SUMMER (JAS)};
\end{axis}

% ---------- b) FALL
\begin{axis}[bpanel, at={(454.4pt,-155.2pt)}, anchor=north west]
\addplot[bandfill] coordinates {(127,405)(125.54,399)(124.98,393)(124.15,381)(123.1,375)(122.76,381)(122.59,389)(122.41,417)(122.24,441)(122.07,460)(121.89,484)(121.89,421)(122.07,405)(122.24,385)(122.41,377)(122.59,355)(122.76,351)(123.1,351)(124.15,367)(124.98,363)(125.54,363)(127,372)};
\addplot[bandline] table[x=lon,y=up]{\bandD};
\addplot[bandline] table[x=lon,y=mid]{\bandD};
\addplot[bandline] table[x=lon,y=lo]{\bandD};
\addplot[lds, pgreen] coordinates {(126.69,413)(126.58,405)(126.51,405)(126.41,385)(126.34,389)(126.24,389)(126.06,389)(125.89,393)(125.71,395)(125.54,389)(125.37,387)(125.19,389)(125.02,389)(124.85,387)(124.67,387)(124.5,389)(124.32,393)(124.18,397)(124.11,385)(123.98,393)(123.91,373)(123.8,377)(123.63,381)(123.46,373)(123.28,369)(123.11,373)(122.93,365)(122.76,369)(122.62,361)(122.55,317)(122.48,361)(122.41,341)(122.31,349)(122.2,349)(122.13,357)(122.07,353)(122.0,325)(121.93,317)(121.86,305)(121.84,321)};
\addplot[lds, co2red] coordinates {(124.88,373)(124.67,375)(124.5,377)(124.32,375)(124.15,373)(124.08,353)(124.01,349)(123.87,341)(123.73,337)(123.6,335)(123.49,353)(123.39,345)(123.32,353)(123.25,357)(123.18,349)(123.11,353)(122.93,351)(122.76,349)(122.59,357)(122.41,361)(122.31,341)(122.24,309)(122.17,357)(122.1,297)(122.03,337)(121.96,277)};
\addplot[ser, pmag] coordinates {(124.39,377)(124.22,381)(124.08,377)(123.94,369)(123.8,377)(123.63,373)(123.46,361)(123.28,357)(123.11,357)(122.93,349)(122.76,345)(122.59,349)(122.41,353)(122.27,317)(122.17,277)(122.07,269)(122.0,289)(121.93,265)(121.87,258)};
\addplot[ser, tblue] coordinates {(124.85,389)(124.5,385)(124.15,381)(123.8,381)(123.63,391)(123.46,385)(123.28,381)(123.11,377)(122.93,373)(122.76,373)(122.59,373)(122.41,385)(122.31,377)(122.24,345)(122.17,269)(122.1,277)(122.03,297)(121.96,297)(121.89,321)(121.84,369)(121.82,377)};
\addplot[ser, black] coordinates {(124.91,397)(124.78,401)(124.64,397)(124.5,393)(124.32,389)(124.15,377)(124.05,365)(123.98,361)(123.8,369)(123.63,365)(123.46,361)(123.28,361)(123.11,365)(122.93,369)(122.76,369)(122.62,377)(122.52,381)(122.45,393)(122.41,429)(122.38,377)(122.31,357)(122.24,297)(122.17,337)(122.1,265)(122.03,297)(121.96,277)(121.89,253)(121.86,289)};
\node[ptitle] at (axis description cs:0.075,0.89) {FALL (OND)};
\end{axis}
\end{tikzpicture}
\end{document}
